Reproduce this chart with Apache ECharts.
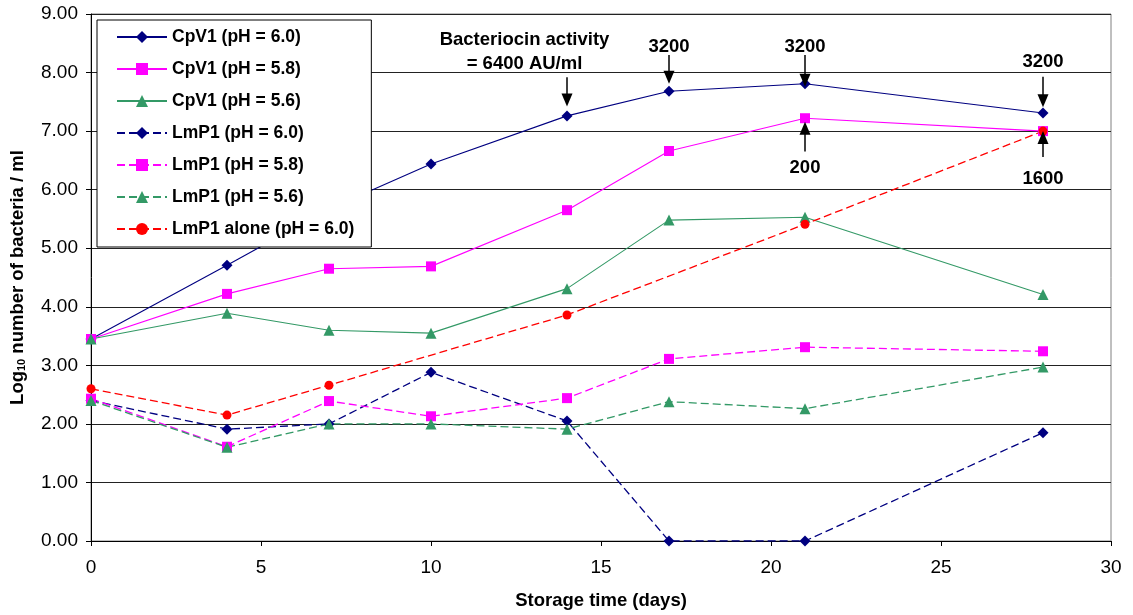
<!DOCTYPE html>
<html>
<head>
<meta charset="utf-8">
<script src="https://cdn.jsdelivr.net/npm/echarts@6/dist/echarts.min.js"></script>
<style>
  html, body { margin: 0; padding: 0; background: #fff; }
  #chart { width: 1133px; height: 615px; }
</style>
</head>
<body>
<div id="chart"></div>
<script>
// storage days
var days = [0, 4, 7, 10, 14, 17, 21, 28];
var aloneDays = [0, 4, 7, 14, 21, 28];

// log10 counts
var cpv1_60 = [3.45, 4.71, 5.67, 6.44, 7.26, 7.68, 7.81, 7.31];
var cpv1_58 = [3.45, 4.22, 4.65, 4.69, 5.65, 6.66, 7.22, 7.00];
var cpv1_56 = [3.45, 3.89, 3.60, 3.55, 4.31, 5.48, 5.53, 4.21];
var lmp1_60 = [2.40, 1.91, 2.00, 2.88, 2.05, 0.00, 0.00, 1.85];
var lmp1_58 = [2.43, 1.61, 2.39, 2.13, 2.44, 3.11, 3.31, 3.24];
var lmp1_56 = [2.40, 1.60, 2.00, 2.00, 1.91, 2.38, 2.26, 2.97];
var lmp1_alone = [2.60, 2.15, 2.66, 3.86, 5.41, 7.00];

// bacteriocin activity notes (AU/ml): [day, from, to]
var downArrows = [[14, 7.92, 7.53], [17, 8.30, 7.92], [21, 8.30, 7.87], [28, 7.93, 7.52]];
var upArrows = [[21, 6.65, 7.05], [28, 6.56, 6.89]];
var notes = [
  [12.75, 8.36, 'Bacteriocin activity\n= 6400 AU/ml'],
  [17, 8.43, '3200'],
  [21, 8.43, '3200'],
  [28, 8.19, '3200'],
  [21, 6.37, '200'],
  [28, 6.19, '1600']
];

var FONT = '"Liberation Sans", Arial, sans-serif';

function pairs(xs, ys) {
  return xs.map(function (x, i) { return [x, ys[i]]; });
}

function line(name, xs, ys, color, symbol, size, dashed) {
  return {
    name: name,
    type: 'line',
    data: pairs(xs, ys),
    symbol: symbol,
    symbolSize: size,
    color: color,
    itemStyle: { color: color },
    lineStyle: { color: color, width: dashed ? 1.3 : 1.1, type: dashed ? [8, 4] : 'solid' },
    animation: false
  };
}

var arrowLines = [];
downArrows.concat(upArrows).forEach(function (a) {
  arrowLines.push([{ coord: [a[0], a[1]] }, { coord: [a[0], a[2]] }]);
});

var chart = echarts.init(document.getElementById('chart'));
chart.setOption({
  backgroundColor: '#fff',
  textStyle: { fontFamily: FONT },
  grid: { left: 90, right: 22, top: 14, bottom: 74, show: true, borderColor: '#808080', borderWidth: 1 },
  legend: {
    orient: 'vertical',
    left: 97,
    top: 20,
    padding: [8, 17, 9, 19],
    itemWidth: 50,
    itemHeight: 15,
    itemGap: 14,
    backgroundColor: '#fff',
    borderColor: '#000',
    borderWidth: 1,
    textStyle: { fontFamily: FONT, fontSize: 17.5, fontWeight: 'bold', color: '#000' },
    data: ['CpV1 (pH = 6.0)', 'CpV1 (pH = 5.8)', 'CpV1 (pH = 5.6)', 'LmP1 (pH = 6.0)',
      'LmP1 (pH = 5.8)', 'LmP1 (pH = 5.6)', 'LmP1 alone (pH = 6.0)']
  },
  xAxis: {
    type: 'value',
    min: 0, max: 30, interval: 5,
    name: 'Storage time (days)',
    nameLocation: 'middle',
    nameGap: 50,
    nameTextStyle: { fontFamily: FONT, fontSize: 18.5, fontWeight: 'bold', color: '#000' },
    axisLine: { lineStyle: { color: '#000', width: 1 } },
    axisTick: { show: true, length: 5, lineStyle: { color: '#000' } },
    axisLabel: { fontFamily: FONT, fontSize: 19, color: '#000', margin: 17 },
    splitLine: { show: false }
  },
  yAxis: {
    type: 'value',
    min: 0, max: 9, interval: 1,
    name: 'Log{sub|10} number of bacteria / ml',
    nameLocation: 'middle',
    nameGap: 64,
    nameTextStyle: {
      fontFamily: FONT, fontSize: 18.5, fontWeight: 'bold', color: '#000',
      rich: { sub: { fontFamily: FONT, fontSize: 11, fontWeight: 'bold', color: '#000', verticalAlign: 'bottom', padding: [7, 0, 0, 0] } }
    },
    axisLine: { show: true, lineStyle: { color: '#000', width: 1 } },
    axisTick: { show: true, length: 5, lineStyle: { color: '#000' } },
    axisLabel: { fontFamily: FONT, fontSize: 19, color: '#000', margin: 13, formatter: function (v) { return v.toFixed(2); } },
    splitLine: { show: true, lineStyle: { color: '#222', width: 1 } }
  },
  series: [
    line('CpV1 (pH = 6.0)', days, cpv1_60, '#000080', 'diamond', 11, false),
    line('CpV1 (pH = 5.8)', days, cpv1_58, '#FF00FF', 'rect', 10, false),
    line('CpV1 (pH = 5.6)', days, cpv1_56, '#339966', 'triangle', 11, false),
    line('LmP1 (pH = 6.0)', days, lmp1_60, '#000080', 'diamond', 11, true),
    line('LmP1 (pH = 5.8)', days, lmp1_58, '#FF00FF', 'rect', 10, true),
    line('LmP1 (pH = 5.6)', days, lmp1_56, '#339966', 'triangle', 11, true),
    line('LmP1 alone (pH = 6.0)', aloneDays, lmp1_alone, '#FF0000', 'circle', 9, true),
    {
      name: 'notes',
      type: 'line',
      data: [],
      animation: false,
      markLine: {
        silent: true,
        symbol: ['none', 'triangle'],
        symbolSize: [11, 13],
        label: { show: false },
        lineStyle: { color: '#000', width: 1.5, type: 'solid' },
        itemStyle: { color: '#000' },
        data: arrowLines
      },
      markPoint: {
        silent: true,
        symbol: 'circle',
        symbolSize: 0,
        label: {
          show: true,
          position: 'inside',
          fontFamily: FONT, fontSize: 18.5, fontWeight: 'bold', color: '#000', lineHeight: 24,
          formatter: function (p) { return p.data.text; }
        },
        data: notes.map(function (n) { return { coord: [n[0], n[1]], text: n[2] }; })
      }
    }
  ]
});
</script>
</body>
</html>
